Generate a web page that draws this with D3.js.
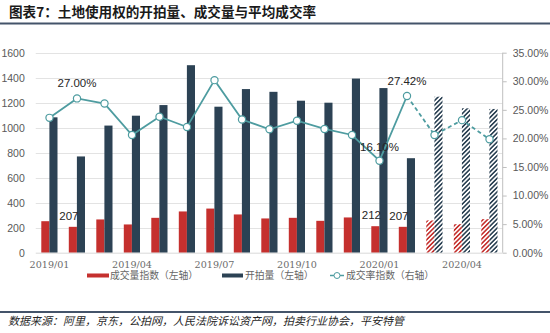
<!DOCTYPE html>
<html><head><meta charset="utf-8">
<script src="https://cdn.jsdelivr.net/npm/d3@7"></script>
<style>
html,body{margin:0;padding:0;background:#fff;}
svg{display:block;}
</style>
</head><body>
<svg id="c" width="550" height="333"></svg>
<script>
const months = ["2019/01","2019/02","2019/03","2019/04","2019/05","2019/06","2019/07","2019/08","2019/09","2019/10","2019/11","2019/12","2020/01","2020/02","2020/03","2020/04","2020/05"];
const tickMonths = ["2019/01","2019/04","2019/07","2019/10","2020/01","2020/04"];
const dealIndex = [252,207,266,226,279,330,353,306,274,279,255,282,212,207,258,228,268];
const auctions = [1083,770,1017,1096,1181,1500,1168,1309,1287,1216,1200,1393,1317,756,1248,1155,1150];
const dealRate = [23.6,27.00,26.1,20.6,23.8,22.0,30.2,23.3,21.6,23.1,21.65,20.6,16.10,27.42,20.6,23.2,19.85];
const forecastStart = 14;
const rateLabelIdx = [1,12,13];
const dealLabelIdx = [1,12,13];
const leftTicks = [0,200,400,600,800,1000,1200,1400,1600];
const rightTicks = [0,5,10,15,20,25,30,35];
const legendNames = ["成交量指数（左轴）","开拍量（左轴）","成交率指数（右轴）"];
const title = "图表7：土地使用权的开拍量、成交量与平均成交率";
const source = "数据来源：阿里，京东，公拍网，人民法院诉讼资产网，拍卖行业协会，平安特管";

const RED = "#C5302E", NAVY = "#2C4254", TEAL = "#4E9CA0", GRID = "#E3E3E3", AX = "#595959";
const svg = d3.select("#c");
const font = "'Liberation Sans', Arial, sans-serif";
const cjk = "'Noto Sans CJK SC', sans-serif";

// patterns
const defs = svg.append("defs");
function hatch(id, color){
  const p = defs.append("pattern").attr("id", id).attr("patternUnits","userSpaceOnUse")
    .attr("width", 3.2).attr("height", 3.2).attr("patternTransform","rotate(45)");
  p.append("rect").attr("width",3.2).attr("height",3.2).attr("fill","#fff");
  p.append("rect").attr("width",1.6).attr("height",3.2).attr("fill",color);
}
hatch("hRed", RED); hatch("hNavy", NAVY);

// title
svg.append("text").attr("x", 9).attr("y", 17).attr("font-family", cjk).attr("font-weight","bold")
  .attr("font-size", 13.6).attr("fill","#1a1a1a").text(title);
svg.append("line").attr("x1",0).attr("x2",550).attr("y1",23.5).attr("y2",23.5)
  .attr("stroke","#44546A").attr("stroke-width",2);

const pTop = 52.7, pBottom = 252.7, pLeft = 35.75, pRight = 503.25;
const x = d3.scaleBand().domain(months).range([pLeft, pRight]).paddingInner(0).paddingOuter(0);
const inner = d3.scaleBand().domain(["deal","auc"]).range([x.bandwidth()/2 - 8.2, x.bandwidth()/2 + 8]);
const yL = d3.scaleLinear().domain([0,1600]).range([pBottom, pTop]);
const yR = d3.scaleLinear().domain([0,35]).range([pBottom, pTop]);

// gridlines
svg.append("g").selectAll("line").data(leftTicks.slice(1)).join("line")
  .attr("x1", pLeft).attr("x2", 502.7).attr("y1", d=>Math.round(yL(d))+0.5).attr("y2", d=>Math.round(yL(d))+0.5)
  .attr("stroke", GRID).attr("stroke-width",1);

// left axis
const gL = svg.append("g").attr("transform",`translate(${pLeft},0)`)
  .call(d3.axisLeft(yL).tickValues(leftTicks).tickSize(0).tickPadding(11).tickFormat(d3.format("d")));
gL.select(".domain").remove();
gL.selectAll("text").attr("font-family", font).attr("font-size", 10.5).attr("fill", AX);

// right axis
const gR = svg.append("g").attr("transform",`translate(502.7,0)`)
  .call(d3.axisRight(yR).tickValues(rightTicks).tickSize(4).tickPadding(6).tickFormat(d=>d.toFixed(2)+"%"));
gR.select(".domain").attr("stroke","#BFBFBF").attr("d", `M0,${pTop}V${pBottom}`);
gR.selectAll(".tick line").attr("stroke","#BFBFBF");
gR.selectAll("text").attr("font-family", font).attr("font-size", 10.5).attr("fill", AX);

// bars
const idx = months.map((m,i)=>i);
svg.append("g").selectAll("rect").data(idx).join("rect")
  .attr("x", i=>x(months[i]) + inner("deal")).attr("width", inner.bandwidth())
  .attr("y", i=>yL(dealIndex[i])).attr("height", i=>pBottom - yL(dealIndex[i]))
  .attr("fill", i=> i>=forecastStart ? "url(#hRed)" : RED);
svg.append("g").selectAll("rect").data(idx).join("rect")
  .attr("x", i=>x(months[i]) + inner("auc")).attr("width", inner.bandwidth())
  .attr("y", i=>yL(auctions[i])).attr("height", i=>pBottom - yL(auctions[i]))
  .attr("fill", i=> i>=forecastStart ? "url(#hNavy)" : NAVY);

// x axis baseline
svg.append("line").attr("x1", pLeft).attr("x2", 502.7).attr("y1", pBottom+0.5).attr("y2", pBottom+0.5)
  .attr("stroke","#D9D9D9");
const gX = svg.append("g").attr("transform",`translate(0,${pBottom})`)
  .call(d3.axisBottom(x).tickValues(tickMonths).tickSize(0).tickPadding(8));
gX.select(".domain").remove();
gX.selectAll("text").attr("font-family", "'DejaVu Serif', serif").attr("font-size", 9.6).attr("fill", "#6b6b6b");

// line
const cx = i => x(months[i]) + x.bandwidth()/2;
const line = d3.line().x(i=>cx(i)).y(i=>yR(dealRate[i]));
const solidIdx = idx.filter(i=>i<forecastStart);
const dashIdx = idx.filter(i=>i>=forecastStart-1);
svg.append("path").attr("d", line(solidIdx)).attr("fill","none").attr("stroke",TEAL).attr("stroke-width",1.8);
svg.append("path").attr("d", line(dashIdx)).attr("fill","none").attr("stroke",TEAL).attr("stroke-width",1.8).attr("stroke-dasharray","4,3");
svg.append("g").selectAll("circle").data(idx).join("circle")
  .attr("cx", cx).attr("cy", i=>yR(dealRate[i])).attr("r", 3.6)
  .attr("fill","#fff").attr("stroke", TEAL).attr("stroke-width",1.2);

// labels
svg.append("g").selectAll("text").data(rateLabelIdx).join("text")
  .attr("x", i=>cx(i)).attr("y", i=>yR(dealRate[i]) - (i===12 ? 10 : 11))
  .attr("text-anchor","middle").attr("font-family", font).attr("font-size", 11.5).attr("fill","#262626")
  .text(i=>dealRate[i].toFixed(2)+"%");
svg.append("g").selectAll("text").data(dealLabelIdx).join("text")
  .attr("x", i=>x(months[i]) + inner("deal") + inner.bandwidth()/2 - 4).attr("y", i=>yL(dealIndex[i]) - 7)
  .attr("text-anchor","middle").attr("font-family", font).attr("font-size", 11.5).attr("fill","#262626")
  .text(i=>dealIndex[i]);

// legend
const lg = svg.append("g").attr("font-family", cjk).attr("font-size", 9.8).attr("fill", "#666");
const ly = 275.5;
lg.append("rect").attr("x",87).attr("y",ly-2).attr("width",22).attr("height",4).attr("fill",RED);
lg.append("text").attr("x",110).attr("y",ly+3.5).text(legendNames[0]);
lg.append("rect").attr("x",222).attr("y",ly-2).attr("width",21).attr("height",4).attr("fill",NAVY);
lg.append("text").attr("x",245).attr("y",ly+3.5).text(legendNames[1]);
lg.append("line").attr("x1",330).attr("x2",344).attr("y1",ly).attr("y2",ly).attr("stroke",TEAL).attr("stroke-width",1.5);
lg.append("circle").attr("cx",337).attr("cy",ly).attr("r",3).attr("fill","#fff").attr("stroke",TEAL).attr("stroke-width",1);
lg.append("text").attr("x",346).attr("y",ly+3.5).text(legendNames[2]);

// footer
svg.append("line").attr("x1",0).attr("x2",550).attr("y1",312).attr("y2",312).attr("stroke","#44546A").attr("stroke-width",2);
svg.append("text").attr("x",8).attr("y",324.5).attr("font-family",cjk).attr("font-style","italic")
  .attr("font-size",11).attr("fill","#262626").text(source);
</script>
</body></html>
